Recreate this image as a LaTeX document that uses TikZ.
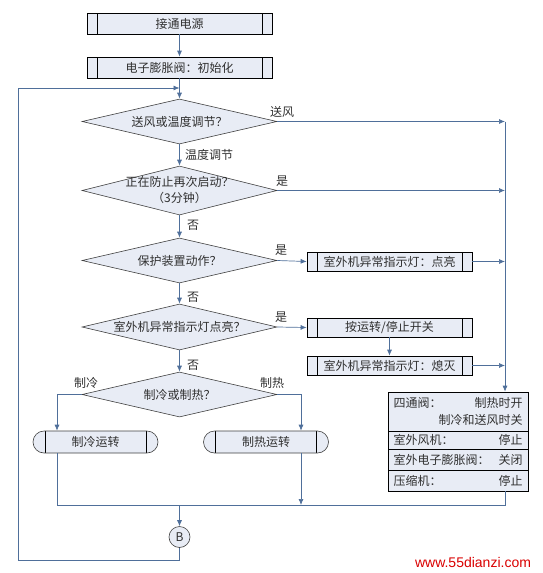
\documentclass[tikz,border=0pt]{standalone}
\usepackage{fontspec}
\setmainfont{Noto Sans CJK SC}
\newfontfamily\wmfont{Liberation Sans}
\usetikzlibrary{shapes.geometric,shapes.misc,arrows.meta}
\definecolor{boxfill}{HTML}{E8ECF5}
\definecolor{lnc}{HTML}{4F6F9A}
\definecolor{txt}{HTML}{303030}
\definecolor{dedge}{HTML}{404040}
\tikzset{
  base/.style={font=\fontsize{12}{16}\selectfont, text=txt, inner sep=0pt},
  proc/.style={base, draw=black, fill=boxfill, rectangle, minimum height=#1, line width=0.7pt,
    path picture={\draw[black, line width=0.7pt]
      ([xshift=10pt]path picture bounding box.north west) -- ([xshift=10pt]path picture bounding box.south west)
      ([xshift=-10pt]path picture bounding box.north east) -- ([xshift=-10pt]path picture bounding box.south east);}},
  procA/.style={proc=21pt, minimum width=185pt},
  procB/.style={proc=19pt, minimum width=165pt},
  dia/.style={base, draw=dedge, fill=boxfill, diamond, minimum width=195pt, line width=0.6pt},
  term/.style={base, draw=dedge, fill=boxfill, rounded rectangle, minimum width=125pt, minimum height=22pt, line width=0.6pt,
    path picture={\draw[black, line width=0.7pt]
      ([xshift=12pt]path picture bounding box.north west) -- ([xshift=12pt]path picture bounding box.south west)
      ([xshift=-12pt]path picture bounding box.north east) -- ([xshift=-12pt]path picture bounding box.south east);}},
  rowbox/.style={base, draw=black, fill=boxfill, rectangle, minimum width=140pt, line width=0.7pt, align=center},
  lbl/.style={base},
  line/.style={draw=lnc, line width=0.7pt},
  conn/.style={line, -{Latex[length=6pt,width=5pt]}},
  circ/.style={base, draw=dedge, fill=boxfill, circle, minimum size=21pt, line width=0.6pt},
}
\begin{document}
\begin{tikzpicture}[x=1pt,y=-1pt]
\useasboundingbox (0,0) rectangle (543,573);
% main column
\node[procA] (b1) at (179.5,23.5) {接通电源};
\node[procA] (b2) at (179.5,67.5) {电子膨胀阀：初始化};
\node[dia, minimum height=45pt, label={[base]center:送风或温度调节？}] (d1) at (179.5,121.5) {};
\node[dia, minimum height=49pt, label={[base,align=center]center:正在防止再次启动？\\（3分钟）}] (d2) at (179.5,190.5) {};
\node[dia, minimum height=45pt, label={[base]center:保护装置动作？}] (d3) at (179.5,260.5) {};
\node[dia, minimum height=46pt, label={[base]center:室外机异常指示灯点亮？}] (d4) at (179.5,327) {};
\node[dia, minimum height=45pt, label={[base]center:制冷或制热？}] (d5) at (179.5,394.5) {};
% right column
\node[procB] (r1) at (389.5,261.5) {室外机异常指示灯：点亮};
\node[procB] (r2) at (389.5,327.5) {按运转/停止开关};
\node[procB] (r3) at (389.5,365.5) {室外机异常指示灯：熄灭};
% status box
\node[rowbox, minimum height=39pt, font=\fontsize{12}{17}\selectfont] (s1) at (458,411.5)
  {\makebox[129pt]{四通阀：\hfill 制热时开}\\\makebox[129pt]{\hfill 制冷和送风时关}};
\node[rowbox, minimum height=18pt] (s2) at (458,440) {\makebox[129pt]{室外风机：\hfill 停止}};
\node[rowbox, minimum height=21pt] (s3) at (458,459.5) {\makebox[129pt]{室外电子膨胀阀：\hfill 关闭}};
\node[rowbox, minimum height=21pt] (s4) at (458,480.5) {\makebox[129pt]{压缩机：\hfill 停止}};
% run boxes
\node[term] (cool) at (95.5,442) {制冷运转};
\node[term] (heat) at (266,442) {制热运转};
\node[circ] (B) at (179.5,537) {B};
% coordinates
\coordinate (vtop) at (505,121.5);
\coordinate (jR) at (505,505);
\coordinate (cin) at ([xshift=-38.5pt]cool.north);
\coordinate (cout) at ([xshift=-38.5pt]cool.south);
\coordinate (hin) at ([xshift=35pt]heat.north);
\coordinate (hout) at ([xshift=35pt]heat.south);
\coordinate (lb) at (18,560);
\coordinate (lt) at (18,88);
% connectors main
\draw[conn] (b1) -- (b2);
\draw[conn] (b2) -- (d1);
\draw[conn] (d1) -- (d2);
\draw[conn] (d2) -- (d3);
\draw[conn] (d3) -- (d4);
\draw[conn] (d4) -- (d5);
% right side
\draw[conn] (vtop) -- (vtop |- s1.north);
\draw[conn] (d1.east) -- (d1.east -| vtop);
\draw[conn] (d2.east) -- (d2.east -| vtop);
\draw[conn] (d3.east) -- (r1.west);
\draw[conn] (d4.east) -- (r2.west);
\draw[conn] (r2) -- (r3);
\draw[conn] (r1.east) -- (r1.east -| vtop);
\draw[conn] (r3.east) -- (r3.east -| vtop);
% branches
\draw[conn] (d5.west) -| (cin);
\draw[conn] (d5.east) -| (hin);
\draw[line] (cout) |- (jR) -- (jR |- s4.south);
\draw[conn] (hout) -- (hout |- jR);
\draw[conn] (B.north |- jR) -- (B.north);
\draw[line] (B.south) |- (lb) -- (lt);
\draw[conn] (lt) -- (lt -| b2.south);
% labels
\node[lbl] (l1) at (282,112) {送风};
\node[lbl, anchor=west] (l2) at (185,155) {温度调节};
\node[lbl] (l3) at (282,181) {是};
\node[lbl] (l4) at (193,225) {否};
\node[lbl] (l5) at (281,250) {是};
\node[lbl] (l6) at (193,297) {否};
\node[lbl] (l7) at (281,317) {是};
\node[lbl] (l8) at (193,365) {否};
\node[lbl] (l9) at (86,383) {制冷};
\node[lbl] (l10) at (272,383) {制热};
\node[inner sep=0pt, text=red!85!black, font=\wmfont\fontsize{14}{16}\selectfont] (wm) at (473,562) {www.55dianzi.com};
\end{tikzpicture}
\end{document}
